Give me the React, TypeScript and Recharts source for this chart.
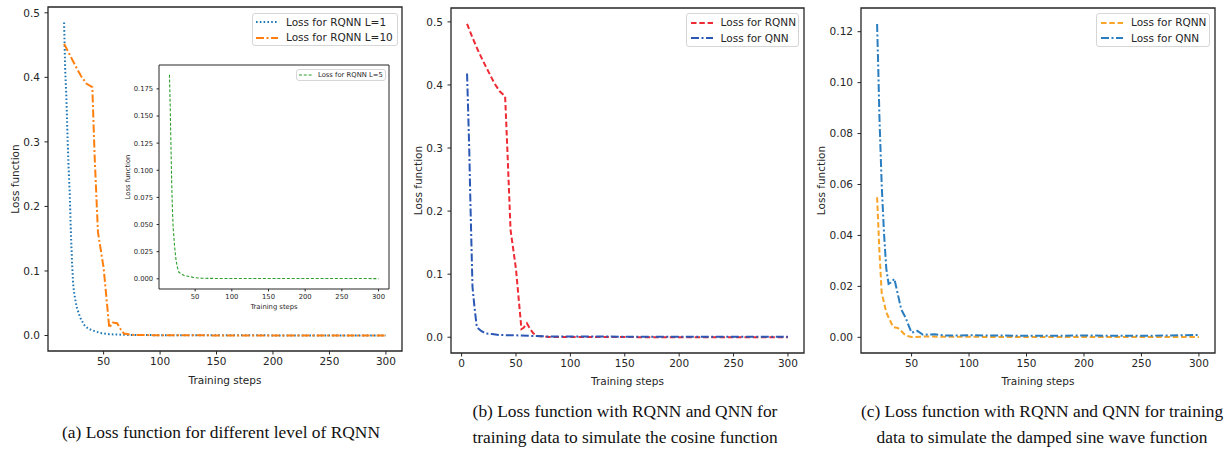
import { LineChart, Line, XAxis, YAxis, ReferenceArea } from "recharts";

// ---- data ----
const l1Steps = [15, 16, 17, 18, 19, 20, 21, 22, 23, 24, 26, 28, 30, 33, 36, 40, 47, 55, 70, 100, 150, 200, 250, 300];
const l1Loss = [0.485, 0.41, 0.37, 0.31, 0.26, 0.22, 0.16, 0.115, 0.08, 0.065, 0.045, 0.034, 0.025, 0.016, 0.011, 0.008, 0.004, 0.002, 0.001, 0.0005, 0.0003, 0.0002, 0.0001, 0.0001];

const l10Steps = [15, 20, 25, 30, 35, 40, 42, 45, 50, 55, 58, 62, 65, 68, 75, 100, 150, 200, 250, 300];
const l10Loss = [0.452, 0.435, 0.418, 0.402, 0.39, 0.385, 0.28, 0.16, 0.105, 0.012, 0.02, 0.019, 0.01, 0.003, 0.001, 0.0003, 0.0002, 0.0001, 0.0001, 0.0001];

const l5Steps = [15, 16, 17, 18, 19, 20, 22, 24, 26, 28, 30, 35, 40, 50, 60, 80, 300];
const l5Loss = [0.188, 0.16, 0.125, 0.09, 0.065, 0.048, 0.03, 0.017, 0.01, 0.006, 0.005, 0.003, 0.0024, 0.001, 0.0005, 0.0003, 0.0002];

const cosRqnnSteps = [5, 10, 15, 20, 25, 30, 35, 40, 42, 45, 50, 55, 57, 60, 63, 66, 70, 80, 100, 300];
const cosRqnnLoss = [0.497, 0.475, 0.455, 0.437, 0.42, 0.403, 0.39, 0.382, 0.3, 0.17, 0.108, 0.013, 0.015, 0.022, 0.013, 0.006, 0.002, 0.0005, 0.0002, 0.0001];

const cosQnnSteps = [5, 6, 7, 8, 9, 10, 12, 14, 18, 22, 28, 35, 50, 65, 80, 100, 300];
const cosQnnLoss = [0.418, 0.36, 0.3, 0.22, 0.15, 0.08, 0.045, 0.016, 0.01, 0.006, 0.005, 0.0035, 0.003, 0.002, 0.0012, 0.001, 0.0008];

const sinQnnSteps = [20, 21, 22, 24, 26, 28, 30, 32, 35, 37, 41, 45, 48, 50, 55, 60, 70, 80, 100, 150, 200, 250, 300];
const sinQnnLoss = [0.123, 0.106, 0.087, 0.06, 0.041, 0.027, 0.021, 0.0215, 0.023, 0.019, 0.011, 0.0075, 0.004, 0.0018, 0.0025, 0.001, 0.0012, 0.0007, 0.0008, 0.0006, 0.0007, 0.0006, 0.0009];

const sinRqnnSteps = [20, 22, 24, 28, 34, 38, 41, 45, 50, 60, 100, 150, 200, 250, 300];
const sinRqnnLoss = [0.055, 0.034, 0.0175, 0.0098, 0.004, 0.0037, 0.0025, 0.0007, 0.0001, 0.0003, 0.0002, 0.0001, 0.0001, 0.0001, 0.0001];

const stepTicks = [50, 100, 150, 200, 250, 300];
const stepTicksFromZero = [0, 50, 100, 150, 200, 250, 300];
const lossTicks = [0, 0.1, 0.2, 0.3, 0.4, 0.5];
const insetTicks = [0, 0.025, 0.05, 0.075, 0.1, 0.125, 0.15, 0.175];
const sineTicks = [0, 0.02, 0.04, 0.06, 0.08, 0.1, 0.12];

const zip = (steps: number[], loss: number[]) => steps.map((step, i) => ({ step, loss: loss[i] }));

type Series = {
  name: string;
  data: { step: number; loss: number }[];
  color: string;
  dash: string;
  width: number;
};

const INK = "#262626";
const FONT = "'DejaVu Sans', sans-serif";

type PanelProps = {
  left: number;
  top: number;
  width: number;
  height: number;
  yAxisWidth: number;
  margin: { top: number; right: number };
  xAxisHeight: number;
  xDomain: [number, number];
  yDomain: [number, number];
  xTicks: number[];
  yTicks: number[];
  digits: number;
  series: Series[];
  fontSize: number;
  tick: number;
  yLabelX: number;
  xLabelDy: number;
  frameWidth: number;
  background?: string;
};

const Panel = (p: PanelProps) => (
  <div style={{ position: "absolute", left: p.left, top: p.top, background: p.background }}>
    <LineChart
      width={p.width}
      height={p.height}
      margin={{ top: p.margin.top, right: p.margin.right, left: 0, bottom: 0 }}
    >
      <XAxis
        type="number"
        dataKey="step"
        domain={p.xDomain}
        ticks={p.xTicks}
        allowDataOverflow
        height={p.xAxisHeight}
        tickSize={p.tick}
        tickMargin={p.tick}
        axisLine={false}
        tickLine={{ stroke: INK }}
        tick={{ fill: INK, fontSize: p.fontSize, fontFamily: FONT }}
        label={{
          content: ({ viewBox }: any) => (
            <text
              x={viewBox.x + viewBox.width / 2}
              y={viewBox.y + p.xLabelDy}
              textAnchor="middle"
              dominantBaseline="central"
              fill={INK}
              fontSize={p.fontSize}
              fontFamily={FONT}
            >
              Training steps
            </text>
          ),
        }}
      />
      <YAxis
        type="number"
        domain={p.yDomain}
        ticks={p.yTicks}
        allowDataOverflow
        width={p.yAxisWidth}
        tickSize={p.tick}
        tickMargin={p.tick + 1}
        axisLine={false}
        tickLine={{ stroke: INK }}
        tickFormatter={(v: number) => v.toFixed(p.digits)}
        tick={{ fill: INK, fontSize: p.fontSize, fontFamily: FONT }}
        label={{
          content: ({ viewBox }: any) => {
            const cx = p.yLabelX;
            const cy = viewBox.y + viewBox.height / 2;
            return (
              <text
                x={cx}
                y={cy}
                transform={`rotate(-90 ${cx} ${cy})`}
                textAnchor="middle"
                dominantBaseline="central"
                fill={INK}
                fontSize={p.fontSize}
                fontFamily={FONT}
              >
                Loss function
              </text>
            );
          },
        }}
      />
      <ReferenceArea
        x1={p.xDomain[0]}
        x2={p.xDomain[1]}
        y1={p.yDomain[0]}
        y2={p.yDomain[1]}
        fill="none"
        fillOpacity={0}
        stroke={INK}
        strokeWidth={p.frameWidth}
        ifOverflow="visible"
      />
      {p.series.map((s) => (
        <Line
          key={s.name}
          data={s.data}
          dataKey="loss"
          type="linear"
          stroke={s.color}
          strokeWidth={s.width}
          strokeDasharray={s.dash}
          dot={false}
          activeDot={false}
          isAnimationActive={false}
        />
      ))}
    </LineChart>
  </div>
);

type LegendProps = {
  left: number;
  top: number;
  width: number;
  height: number;
  series: Series[];
  rowTop: number;
  rowGap: number;
  handle: [number, number];
  textX: number;
  fontSize: number;
};

const LegendBox = (p: LegendProps) => (
  <div
    style={{
      position: "absolute",
      left: p.left,
      top: p.top,
      width: p.width,
      height: p.height,
      boxSizing: "border-box",
      border: "1px solid #d6d6d6",
      borderRadius: 3,
      background: "rgba(255,255,255,0.85)",
      fontFamily: FONT,
      fontSize: p.fontSize,
      color: INK,
    }}
  >
    {p.series.map((s, i) => {
      const cy = p.rowTop + i * p.rowGap;
      return (
        <div key={s.name}>
          <svg style={{ position: "absolute", left: 0, top: cy - 3 }} width={p.textX} height={6}>
            <line
              x1={p.handle[0]}
              x2={p.handle[1]}
              y1={3}
              y2={3}
              stroke={s.color}
              strokeWidth={s.width}
              strokeDasharray={s.dash}
            />
          </svg>
          <div
            style={{
              position: "absolute",
              left: p.textX,
              top: cy - p.fontSize * 0.6,
              lineHeight: `${p.fontSize * 1.2}px`,
              whiteSpace: "nowrap",
            }}
          >
            {s.name}
          </div>
        </div>
      );
    })}
  </div>
);

const levelSeries: Series[] = [
  { name: "Loss for RQNN L=1", data: zip(l1Steps, l1Loss), color: "#1f77b4", dash: "1.6 2.2", width: 2 },
  { name: "Loss for RQNN L=10", data: zip(l10Steps, l10Loss), color: "#ff7f0e", dash: "8 2.5 2 2.5", width: 2 },
];
const insetSeries: Series[] = [
  { name: "Loss for RQNN L=5", data: zip(l5Steps, l5Loss), color: "#2ca02c", dash: "3 1.8", width: 1.1 },
];
const cosineSeries: Series[] = [
  { name: "Loss for RQNN", data: zip(cosRqnnSteps, cosRqnnLoss), color: "#ee2b35", dash: "5.5 2.8", width: 2 },
  { name: "Loss for QNN", data: zip(cosQnnSteps, cosQnnLoss), color: "#2b57b5", dash: "8 2.5 2 2.5", width: 2 },
];
const sineSeries: Series[] = [
  { name: "Loss for RQNN", data: zip(sinRqnnSteps, sinRqnnLoss), color: "#f8a428", dash: "5.5 2.8", width: 2 },
  { name: "Loss for QNN", data: zip(sinQnnSteps, sinQnnLoss), color: "#2a7ec0", dash: "8 2.5 2 2.5", width: 2 },
];

const captionStyle = (center: number, top: number): React.CSSProperties => ({
  position: "absolute",
  left: center - 220,
  width: 440,
  top,
  textAlign: "center",
  fontFamily: "'Liberation Serif', 'Times New Roman', serif",
  fontSize: 17.4,
  lineHeight: "26px",
  color: "#111",
});

export default function App() {
  return (
    <div style={{ position: "absolute", left: 0, top: 0, width: 1228, height: 454, background: "#fff", overflow: "hidden" }}>
      {/* (a) */}
      <Panel
        left={0}
        top={0}
        width={410}
        height={392}
        yAxisWidth={48}
        margin={{ top: 7, right: 8 }}
        xAxisHeight={41}
        xDomain={[0.75, 314.25]}
        yDomain={[-0.024, 0.509]}
        xTicks={stepTicks}
        yTicks={lossTicks}
        digits={1}
        series={levelSeries}
        fontSize={10.5}
        tick={3.5}
        yLabelX={14.5}
        xLabelDy={29}
        frameWidth={1.3}
      />
      <LegendBox
        left={252}
        top={13}
        width={146}
        height={33}
        series={levelSeries}
        rowTop={8}
        rowGap={15.7}
        handle={[3, 25]}
        textX={33}
        fontSize={10.5}
      />
      {/* inset */}
      <Panel
        left={118}
        top={60}
        width={274}
        height={255}
        yAxisWidth={41}
        margin={{ top: 5, right: 3 }}
        xAxisHeight={26}
        xDomain={[0.75, 314.25]}
        yDomain={[-0.0094, 0.197]}
        xTicks={stepTicks}
        yTicks={insetTicks}
        digits={3}
        series={insetSeries}
        fontSize={6.8}
        tick={2.4}
        yLabelX={10}
        xLabelDy={18}
        frameWidth={1}
        background="#fff"
      />
      <LegendBox
        left={296}
        top={69}
        width={90}
        height={12}
        series={insetSeries}
        rowTop={5.3}
        rowGap={0}
        handle={[2, 16]}
        textX={21}
        fontSize={6.8}
      />
      {/* (b) */}
      <Panel
        left={405}
        top={0}
        width={403}
        height={394}
        yAxisWidth={46}
        margin={{ top: 8, right: 4 }}
        xAxisHeight={41}
        xDomain={[-9.75, 314.75]}
        yDomain={[-0.025, 0.522]}
        xTicks={stepTicksFromZero}
        yTicks={lossTicks}
        digits={1}
        series={cosineSeries}
        fontSize={10.5}
        tick={3.5}
        yLabelX={12.5}
        xLabelDy={28}
        frameWidth={1.3}
      />
      <LegendBox
        left={686}
        top={13}
        width={113}
        height={34}
        series={cosineSeries}
        rowTop={8.5}
        rowGap={15.7}
        handle={[4, 26]}
        textX={33.6}
        fontSize={10.5}
      />
      {/* (c) */}
      <Panel
        left={810}
        top={0}
        width={418}
        height={394}
        yAxisWidth={51}
        margin={{ top: 8, right: 13 }}
        xAxisHeight={41}
        xDomain={[6, 314]}
        yDomain={[-0.00615, 0.1293]}
        xTicks={stepTicks}
        yTicks={sineTicks}
        digits={2}
        series={sineSeries}
        fontSize={10.5}
        tick={3.5}
        yLabelX={10.5}
        xLabelDy={28}
        frameWidth={1.3}
      />
      <LegendBox
        left={1096}
        top={13}
        width={114}
        height={34}
        series={sineSeries}
        rowTop={8.5}
        rowGap={15.7}
        handle={[4, 26]}
        textX={34}
        fontSize={10.5}
      />
      {/* captions */}
      <div style={captionStyle(221, 419)}>(a) Loss function for different level of RQNN</div>
      <div style={captionStyle(625, 398)}>
        (b) Loss function with RQNN and QNN for
        <br />
        training data to simulate the cosine function
      </div>
      <div style={captionStyle(1042, 398)}>
        (c) Loss function with RQNN and QNN for training
        <br />
        data to simulate the damped sine wave function
      </div>
    </div>
  );
}
